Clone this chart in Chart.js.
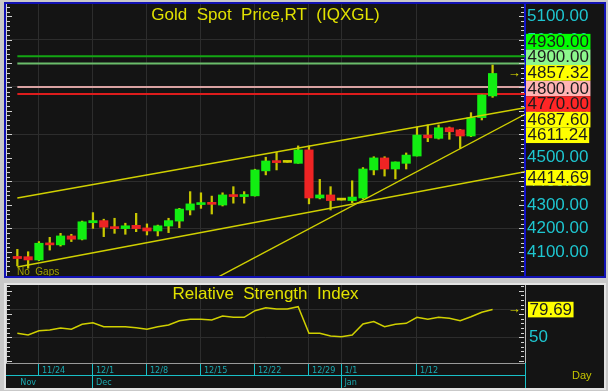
<!DOCTYPE html>
<html>
<head>
<meta charset="utf-8">
<title>Gold Spot Price,RT (IQXGL)</title>
<script src="https://cdn.jsdelivr.net/npm/chart.js"></script>
<style>
  html, body { margin: 0; padding: 0; }
  body { width: 608px; height: 391px; background: #c9c9c9; position: relative; overflow: hidden; }
  .panel { position: absolute; box-sizing: border-box; background: #141414; }
  #pricePanel { left: 4px; top: 2px; width: 602px; height: 276px; border: 2px solid #1212b4; }
  #rsiPanel { left: 4px; top: 283px; width: 602px; height: 107px; border: 2px solid #e4e4e4; }
  canvas { position: absolute; left: 0; top: 0; }
</style>
</head>
<body>
<div class="panel" id="pricePanel"><canvas id="priceChart" width="598" height="272"></canvas></div>
<div class="panel" id="rsiPanel"><canvas id="rsiChart" width="598" height="103"></canvas></div>
<script>
const FONT = "'Liberation Sans', Arial, sans-serif";
const SMALL = "'Liberation Sans Narrow', 'Arial Narrow', 'DejaVu Sans Condensed', 'Liberation Sans', Arial, sans-serif";

// Daily candles, 11/20 .. 1/21
const dates = ['11/20','11/21','11/24','11/25','11/26','11/27','11/28',
  '12/1','12/2','12/3','12/4','12/5','12/8','12/9','12/10','12/11','12/12',
  '12/15','12/16','12/17','12/18','12/19','12/22','12/23','12/24','12/25','12/26',
  '12/29','12/30','12/31','1/1','1/2','1/5','1/6','1/7','1/8','1/9',
  '1/12','1/13','1/14','1/15','1/16','1/19','1/20','1/21'];
const opens  = [4081,4080,4066,4137,4130,4168,4154,4224,4233,4207,4199,4213,4202,4189,4210,4231,4278,4301,4309,4299,4343,4335,4338,4444,4486,4480,4476,4533,4329,4342,4320,4318,4329,4448,4499,4452,4476,4507,4596,4582,4627,4618,4592,4670,4762];
const highs  = [4111,4101,4144,4162,4179,4175,4231,4267,4239,4243,4222,4264,4219,4214,4243,4285,4356,4351,4337,4351,4377,4356,4451,4502,4523,4480,4550,4550,4408,4377,4320,4402,4458,4504,4504,4482,4520,4630,4639,4639,4630,4620,4691,4766,4893];
const lows   = [4041,4031,4063,4108,4125,4144,4151,4200,4165,4179,4175,4186,4172,4168,4182,4203,4257,4285,4261,4295,4307,4307,4337,4427,4448,4480,4476,4304,4325,4278,4320,4309,4325,4427,4422,4410,4452,4507,4568,4579,4578,4540,4589,4660,4756];
const closes = [4072,4066,4137,4130,4168,4154,4228,4233,4205,4199,4211,4199,4189,4211,4233,4282,4304,4309,4302,4342,4335,4343,4448,4486,4479,4480,4533,4329,4342,4318,4320,4333,4452,4499,4452,4482,4511,4596,4584,4627,4610,4592,4670,4766,4857.32];
const rsi    = [54.3,52.5,57,57.8,60,58.6,64,65.6,61.4,61.4,61.4,60.3,58.6,61.4,63.2,67.8,69.3,69.3,68.5,72.8,71.4,71.4,78.5,81.7,80.3,80.3,82.8,54.3,54.3,51.4,50.7,52.5,64.3,66.8,61.4,64,65,71.4,69.3,71.4,70.3,67.8,72,76.8,79.69];

const dateTicks = ['11/24','12/1','12/8','12/15','12/22','12/29','1/1','1/12'];
const months = ['Nov','Dec','Jan'];
const monthStarts = ['11/20','12/1','1/1'];
const priceTicks = [4100,4200,4300,4400,4500,4600,4700,4800,4900,5000,5100];
const rsiTicks = [50, 80];

// horizontal price levels
const levels = [4930, 4900, 4800, 4770];
const levelColors = ['#13a613', '#6bbd6b', '#d9a2a2', '#dd1c1c'];
const levelBoxColors = ['#00ff00', '#8cf78c', '#ffb4b4', '#ff2626'];

// trend lines: two anchor points each (candle index, price)
const trendAnchorX = [[0, 44], [0, 44], [30, 44]];
const trendAnchorY = [[4329, 4687.60], [4036, 4414.69], [4271, 4611.24]];
const trendFrom = [0, 0, 15];

const xMin = -1.05, xMax = 47.0;
const last = closes.length - 1;
const idx = d => dates.indexOf(d);

const GREEN = '#12ee12', RED = '#ee2424', DOJI = '#d2d200', WICK = '#c8c800', LINE = '#d0d000';
const CYAN = '#1ec6d0', TEAL = '#1aa9b0', TEAL_LINE = '#19c0c8', YELLOW_BOX = '#ffff00';

function candleColor(i) {
  if (closes[i] > opens[i]) return GREEN;
  if (closes[i] < opens[i]) return RED;
  return DOJI;
}

function trendValue(k, x) {
  const [x0, x1] = trendAnchorX[k], [y0, y1] = trendAnchorY[k];
  return y0 + (y1 - y0) * (x - x0) / (x1 - x0);
}

// push overlapping labels apart, keeping each cluster centred on its values
function dodge(items, h) {
  const sorted = items.slice().sort((a, b) => a.y - b.y);
  const groups = sorted.map(it => ({ items: [it] }));
  const place = g => {
    const c = g.items.reduce((s, it) => s + it.y, 0) / g.items.length;
    g.top = c - g.items.length * h / 2;
  };
  groups.forEach(place);
  let merged = true;
  while (merged) {
    merged = false;
    for (let k = 0; k < groups.length - 1; k++) {
      const a = groups[k], b = groups[k + 1];
      if (a.top + a.items.length * h > b.top) {
        a.items = a.items.concat(b.items);
        groups.splice(k + 1, 1);
        place(a);
        merged = true;
        break;
      }
    }
  }
  groups.forEach(g => g.items.forEach((it, j) => { it.top = g.top + j * h; }));
  return sorted;
}

const valueBoxes = {
  id: 'valueBoxes',
  afterDraw(chart, args, o) {
    const { ctx } = chart;
    const scale = chart.scales.y;
    const items = o.items.map(it => ({ ...it, y: scale.getPixelForValue(it.value) }));
    dodge(items, o.height);
    ctx.save();
    ctx.font = `17px ${FONT}`;
    ctx.textBaseline = 'middle';
    ctx.textAlign = 'left';
    items.forEach(it => {
      const text = it.value.toFixed(2);
      const w = ctx.measureText(text).width + 3;
      ctx.fillStyle = it.color;
      ctx.fillRect(scale.left + 1 + o.shift, it.top, w, o.height);
      ctx.fillStyle = '#1c1c1c';
      ctx.fillText(text, scale.left + 2.5 + o.shift, it.top + o.height / 2 + 0.5);
    });
    ctx.restore();
  }
};

const panelDecor = {
  id: 'panelDecor',
  afterDraw(chart, args, o) {
    const { ctx, chartArea: a } = chart;
    const ys = chart.scales.y, xs = chart.scales.x;
    ctx.save();
    ctx.strokeStyle = '#d4d4d4';
    ctx.lineWidth = 1;
    ctx.beginPath();
    ctx.moveTo(a.left + 0.5, a.top);
    ctx.lineTo(a.left + 0.5, a.bottom);
    for (let v = o.tickFrom; v <= o.tickTo; v += o.tickStep) {
      const y = Math.round(ys.getPixelForValue(v)) + 0.5;
      const len = v % o.majorStep === 0 ? 5 : 3;
      ctx.moveTo(a.left + 1, y); ctx.lineTo(a.left + 1 + len, y);
      ctx.moveTo(a.right - 1, y); ctx.lineTo(a.right - 1 - len, y);
    }
    ctx.stroke();

    if (o.strip) {
      ctx.strokeStyle = TEAL_LINE;
      ctx.beginPath();
      ctx.moveTo(Math.round(a.right) + 0.5, a.bottom);
      ctx.lineTo(Math.round(a.right) + 0.5, chart.height);
      ctx.stroke();
    }

    ctx.fillStyle = '#e2e200';
    ctx.font = `17px ${FONT}`;
    ctx.textAlign = 'center';
    ctx.textBaseline = 'middle';
    ctx.fillText(o.title, (a.left + a.right) / 2, a.top + o.titleY);

    ctx.font = `13px ${FONT}`;
    ctx.fillStyle = '#e2e200';
    ctx.fillText('\u2192', xs.getPixelForValue(o.arrowX), ys.getPixelForValue(o.arrowY));

    (o.notes || []).forEach(n => {
      ctx.fillStyle = n.color;
      ctx.font = `${n.size}px ${FONT}`;
      ctx.textAlign = 'left';
      ctx.textBaseline = 'alphabetic';
      ctx.fillText(n.text, n.x(a), n.y(a));
    });
    ctx.restore();
  }
};

const setTicks = list => scale => { scale.ticks = list.map(v => ({ value: v })); };
const noPad = s => { s.paddingTop = 0; s.paddingBottom = 0; s.paddingLeft = 0; s.paddingRight = 0; };

// ---------- price panel ----------
const trendSets = trendAnchorX.map((ax, k) => ({
  type: 'line',
  data: [{ x: trendFrom[k], y: trendValue(k, trendFrom[k]) }, { x: xMax, y: trendValue(k, xMax) }],
  borderColor: LINE, borderWidth: 1.4, pointRadius: 0, order: 0
}));
const levelSets = levels.map((v, k) => ({
  type: 'line',
  data: [{ x: 0, y: v }, { x: xMax, y: v }],
  borderColor: levelColors[k], borderWidth: 2, pointRadius: 0, order: 3
}));

new Chart(document.getElementById('priceChart'), {
  type: 'bar',
  data: {
    datasets: [
      ...trendSets,
      {
        type: 'bar', data: opens.map((o, i) => ({ x: i, y: [o, closes[i]] })),
        backgroundColor: ctx => candleColor(ctx.dataIndex), borderWidth: 0,
        barThickness: 8.5, minBarLength: 2, grouped: false, order: 1
      },
      {
        type: 'bar', data: lows.map((l, i) => ({ x: i, y: [l, highs[i]] })),
        backgroundColor: WICK, borderWidth: 0, barThickness: 1.6, grouped: false, order: 2
      },
      ...levelSets
    ]
  },
  options: {
    responsive: false, animation: false, events: [],
    layout: { padding: 0 },
    plugins: {
      legend: { display: false }, tooltip: { enabled: false },
      valueBoxes: {
        height: 15.6, shift: 0,
        items: [
          ...levels.map((v, k) => ({ value: v, color: levelBoxColors[k] })),
          { value: closes[last], color: YELLOW_BOX },
          ...trendAnchorY.map((t, k) => ({ value: trendValue(k, last), color: YELLOW_BOX }))
        ]
      },
      panelDecor: {
        title: 'Gold  Spot  Price,RT  (IQXGL)', titleY: 11,
        tickFrom: 4000, tickTo: 5140, tickStep: 20, majorStep: 100,
        arrowX: last + 2, arrowY: closes[last],
        notes: [{ text: 'No  Gaps', color: '#a0a000', size: 10, x: a => a.left + 11, y: a => a.bottom - 1 }]
      }
    },
    scales: {
      x: {
        type: 'linear', min: xMin, max: xMax, offset: false,
        afterBuildTicks: setTicks(dateTicks.map(idx)),
        afterFit: s => { s.height = 0; noPad(s); },
        grid: { color: '#2d2d2d', drawTicks: false, offset: false },
        border: { display: false },
        ticks: { display: false }
      },
      y: {
        type: 'linear', position: 'right', min: 3998, max: 5152,
        afterBuildTicks: setTicks(priceTicks),
        afterFit: s => { s.width = 79; noPad(s); },
        grid: { color: c => (c.tick && c.tick.value % 200 === 0) ? '#2d2d2d' : 'rgba(0,0,0,0)', drawTicks: false },
        border: { color: '#1212c8', width: 2 },
        ticks: { color: CYAN, font: { family: FONT, size: 17 }, padding: 2, autoSkip: false, callback: v => v.toFixed(2) }
      }
    }
  },
  plugins: [valueBoxes, panelDecor]
});

// ---------- RSI panel ----------
new Chart(document.getElementById('rsiChart'), {
  type: 'line',
  data: {
    datasets: [{
      data: rsi.map((v, i) => ({ x: i, y: v })),
      borderColor: LINE, borderWidth: 1.5, pointRadius: 0, tension: 0
    }]
  },
  options: {
    responsive: false, animation: false, events: [],
    layout: { padding: 0 },
    plugins: {
      legend: { display: false }, tooltip: { enabled: false },
      valueBoxes: { height: 15.6, shift: 2, items: [{ value: rsi[last], color: YELLOW_BOX }] },
      panelDecor: {
        title: 'Relative  Strength  Index', titleY: 9,
        tickFrom: 25, tickTo: 105, tickStep: 5, majorStep: 25,
        arrowX: last + 2, arrowY: rsi[last], strip: true,
        notes: [{ text: 'Day', color: '#c4c400', size: 11, x: a => a.right + 47, y: a => a.bottom + 16 }]
      }
    },
    scales: {
      x: {
        type: 'linear', min: xMin, max: xMax, position: 'bottom', weight: 0,
        afterBuildTicks: setTicks(dateTicks.map(idx)),
        afterFit: s => { s.height = 12; noPad(s); },
        grid: { color: '#2d2d2d', tickColor: TEAL_LINE, tickLength: 12 },
        border: { color: '#9a9a9a', width: 1 },
        ticks: {
          color: TEAL, font: { family: SMALL, size: 9 }, align: 'start', labelOffset: 3, padding: -10.2,
          autoSkip: false, minRotation: 0, maxRotation: 0, callback: v => dates[v]
        }
      },
      xm: {
        type: 'linear', min: xMin, max: xMax, position: 'bottom', weight: 1,
        afterBuildTicks: setTicks(monthStarts.map(idx)),
        afterFit: s => { s.height = 13; noPad(s); },
        grid: { drawOnChartArea: false, tickColor: c => c.index === 0 ? 'rgba(0,0,0,0)' : TEAL_LINE, tickLength: 13 },
        border: { color: TEAL_LINE, width: 1 },
        ticks: {
          color: TEAL, font: { family: SMALL, size: 9 }, align: 'start', labelOffset: 3, padding: -11.2,
          autoSkip: false, minRotation: 0, maxRotation: 0, callback: (v, i) => months[i]
        }
      },
      y: {
        type: 'linear', position: 'right', min: 22.5, max: 106,
        afterBuildTicks: setTicks(rsiTicks),
        afterFit: s => { s.width = 79; noPad(s); },
        grid: { color: '#2d2d2d', drawTicks: false },
        border: { color: '#bcbcbc', width: 1 },
        ticks: { color: CYAN, font: { family: FONT, size: 17 }, padding: 4, autoSkip: false, callback: v => String(v) }
      }
    }
  },
  plugins: [valueBoxes, panelDecor]
});
</script>
</body>
</html>
